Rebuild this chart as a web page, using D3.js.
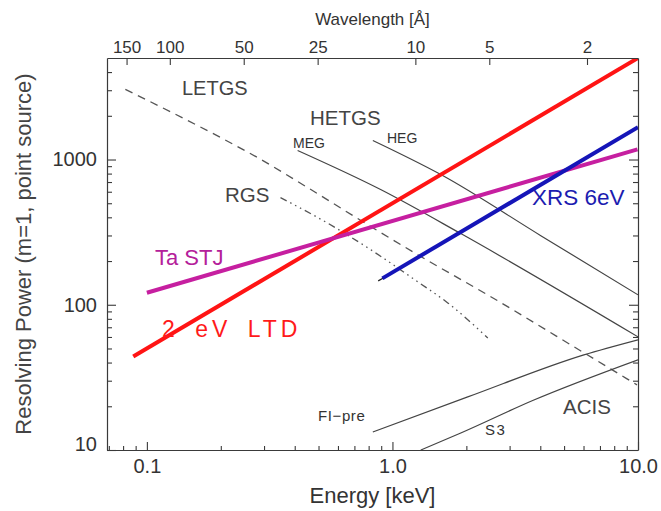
<!DOCTYPE html>
<html>
<head>
<meta charset="utf-8">
<script src="https://cdn.jsdelivr.net/npm/d3@7"></script>
<style>
  html, body { margin: 0; padding: 0; background: #fff; }
  svg { display: block; }
  text { font-family: "Liberation Sans", Arial, sans-serif; }
</style>
</head>
<body>
<svg id="chart" width="661" height="511"></svg>
<script>
// Energy-axis ticks (keV) and resolving-power ticks
const energyMajor = [0.1, 1, 10];
const energyMinor = [0.07, 0.08, 0.09, 0.2, 0.3, 0.4, 0.5, 0.6, 0.7, 0.8, 0.9, 2, 3, 4, 5, 6, 7, 8, 9];
const energyLabels = ["0.1", "1.0", "10.0"];
const powerMajor = [10, 100, 1000];
const powerMinor = [20, 30, 40, 50, 60, 70, 80, 90, 200, 300, 400, 500, 600, 700, 800, 900, 2000, 3000, 4000];
const powerLabels = ["10", "100", "1000"];
const wavelengthTicks = [150, 100, 50, 25, 10, 5, 2];   // Å
const HC = 12.398;                                      // keV·Å

// Calorimeter / STJ resolving power (keV, E/dE)
const ltdE = [0.088, 10];
const ltdR = [44, 5000];
const stjE = [0.1, 9.95];
const stjR = [121, 1175];
const xrsE = [0.91, 10];
const xrsR = [152, 1667];
const xrsStubE = [0.875, 0.95];
const xrsStubR = [146, 158];

// Gratings
const letgsE = [0.0817, 0.1994, 0.2822, 0.4514, 0.7926, 1.2677, 2.515, 6.022, 9.906];
const letgsR = [3039, 1418, 1032, 641, 356, 221, 113.6, 46.7, 28.1];
const rgsE = [0.350, 0.576, 0.839, 1.267, 1.68, 2.445];
const rgsR = [547, 345, 232, 144, 103, 59];
const megE = [0.411, 0.895, 1.898, 10];
const megR = [1153, 621, 309, 60.1];
const hegE = [0.832, 1.574, 4.02, 10];
const hegR = [1352, 788, 299, 117];

// CCD (ACIS)
const fiE = [0.832, 2.026, 6.02, 10];
const fiR = [13.3, 23.2, 45.2, 57.4];
const s3E = [1.304, 1.898, 3.767, 10];
const s3R = [10, 13.1, 22.1, 41.8];

const W = 661, H = 511;
const plot = { left: 107, right: 638, top: 58, bottom: 450 };
const axisColor = "#3a3a3a";

const svg = d3.select("#chart");
svg.append("rect").attr("width", W).attr("height", H).attr("fill", "#fff");

const x = d3.scaleLog().domain([0.0688, 10]).range([plot.left, plot.right]);
const y = d3.scaleLog().domain([10, 5000]).range([plot.bottom, plot.top]);

svg.append("clipPath").attr("id", "clip")
  .append("rect")
  .attr("x", plot.left).attr("y", plot.top)
  .attr("width", plot.right - plot.left).attr("height", plot.bottom - plot.top);

const g = svg.append("g").attr("clip-path", "url(#clip)");

const zip = (es, rs) => es.map((e, i) => [e, rs[i]]);
const line = d3.line().x(d => x(d[0])).y(d => y(d[1])).curve(d3.curveMonotoneX);

function curve(es, rs, stroke, width, dash) {
  g.append("path")
    .datum(zip(es, rs))
    .attr("d", line)
    .attr("fill", "none")
    .attr("stroke", stroke)
    .attr("stroke-width", width)
    .attr("stroke-dasharray", dash || null)
    .attr("stroke-linecap", "butt");
}

// thin instrument curves
curve(letgsE, letgsR, "#555", 1.3, "8,6");
curve(rgsE, rgsR, "#555", 1.3, "7,4,1.5,4,1.5,4,1.5,4");
curve(megE, megR, "#444", 1.2);
curve(hegE, hegR, "#444", 1.2);
curve(fiE, fiR, "#444", 1.2);
curve(s3E, s3R, "#444", 1.2);
curve(xrsStubE, xrsStubR, "#222", 1.2);

// thick detector lines
curve(ltdE, ltdR, "#ff1414", 4);
curve(stjE, stjR, "#c61fa0", 4);
curve(xrsE, xrsR, "#1515b8", 4);

// axes: inward ticks on all four sides
function styleAxis(sel, majors, majorLen) {
  sel.select(".domain").attr("stroke", axisColor).attr("stroke-width", 1.2);
  sel.selectAll(".tick line").attr("stroke", axisColor).attr("stroke-width", 1.1);
  sel.selectAll(".tick").filter(d => majors.includes(d)).select("line").each(function () {
    const l = d3.select(this);
    if (l.attr("x2") !== null && +l.attr("x2") !== 0) l.attr("x2", Math.sign(+l.attr("x2")) * majorLen);
    if (l.attr("y2") !== null && +l.attr("y2") !== 0) l.attr("y2", Math.sign(+l.attr("y2")) * majorLen);
  });
  sel.selectAll(".tick text").attr("fill", "#333");
}

const eTicks = energyMajor.concat(energyMinor);
const axBottom = svg.append("g").attr("transform", `translate(0,${plot.bottom})`)
  .call(d3.axisBottom(x).tickValues(eTicks).tickSizeInner(-4).tickSizeOuter(0).tickPadding(9)
    .tickFormat(d => { const i = energyMajor.indexOf(d); return i >= 0 ? energyLabels[i] : ""; }));
styleAxis(axBottom, energyMajor, 8);
axBottom.selectAll(".tick text").attr("font-size", 20);

const pTicks = powerMajor.concat(powerMinor);
const axLeft = svg.append("g").attr("transform", `translate(${plot.left},0)`)
  .call(d3.axisLeft(y).tickValues(pTicks).tickSizeInner(-5).tickSizeOuter(0).tickPadding(10)
    .tickFormat(d => { const i = powerMajor.indexOf(d); return i >= 0 ? powerLabels[i] : ""; }));
styleAxis(axLeft, powerMajor, 9);
axLeft.selectAll(".tick text").attr("font-size", 20);
axLeft.selectAll(".tick").filter(d => d === 10).select("text").attr("dy", "0em");

const axRight = svg.append("g").attr("transform", `translate(${plot.right},0)`)
  .call(d3.axisRight(y).tickValues(pTicks).tickSizeInner(-5).tickSizeOuter(0).tickFormat(""));
styleAxis(axRight, powerMajor, 9);

const axTop = svg.append("g").attr("transform", `translate(0,${plot.top})`)
  .call(d3.axisTop(x).tickValues(wavelengthTicks.map(l => HC / l)).tickSizeInner(-7).tickSizeOuter(0).tickPadding(5)
    .tickFormat((d, i) => String(wavelengthTicks[i])));
styleAxis(axTop, [], 7);
axTop.selectAll(".tick text").attr("font-size", 17);

// axis titles
svg.append("text").attr("x", (plot.left + plot.right) / 2).attr("y", 503)
  .attr("text-anchor", "middle").attr("font-size", 22).attr("fill", "#333")
  .text("Energy  [keV]");
svg.append("text").attr("x", (plot.left + plot.right) / 2).attr("y", 25)
  .attr("text-anchor", "middle").attr("font-size", 17).attr("fill", "#333")
  .text("Wavelength [Å]");
svg.append("text")
  .attr("transform", `translate(31,${(plot.top + plot.bottom) / 2}) rotate(-90)`)
  .attr("text-anchor", "middle").attr("font-size", 22).attr("fill", "#444")
  .text("Resolving Power (m=1, point source)");

// in-plot labels
const labels = [
  { t: "LETGS", x: 182, y: 95, s: 20, c: "#444" },
  { t: "HETGS", x: 310, y: 125, s: 20.5, c: "#444" },
  { t: "MEG", x: 293, y: 148, s: 14, c: "#333" },
  { t: "HEG", x: 387, y: 143, s: 14, c: "#333" },
  { t: "RGS", x: 225, y: 202, s: 20.5, c: "#444" },
  { t: "Ta STJ", x: 155, y: 265, s: 22, c: "#b4209a" },
  { t: "2 eV LTD", x: 162, y: 337, s: 23, c: "#ff1a1a", ls: 4, ws: 6 },
  { t: "XRS 6eV", x: 532, y: 205, s: 22.5, c: "#1c1cb0" },
  { t: "ACIS", x: 563, y: 414, s: 20.5, c: "#444" },
  { t: "FI\u2212pre", x: 318, y: 421, s: 15, c: "#333", ls: 0.6 },
  { t: "S3", x: 485, y: 435, s: 15, c: "#333", ls: 1.5 }
];
svg.selectAll("text.lab").data(labels).enter().append("text")
  .attr("class", "lab")
  .attr("x", d => d.x).attr("y", d => d.y)
  .attr("font-size", d => d.s).attr("fill", d => d.c)
  .attr("letter-spacing", d => d.ls || null)
  .attr("word-spacing", d => d.ws || null)
  .text(d => d.t);
</script>
</body>
</html>
